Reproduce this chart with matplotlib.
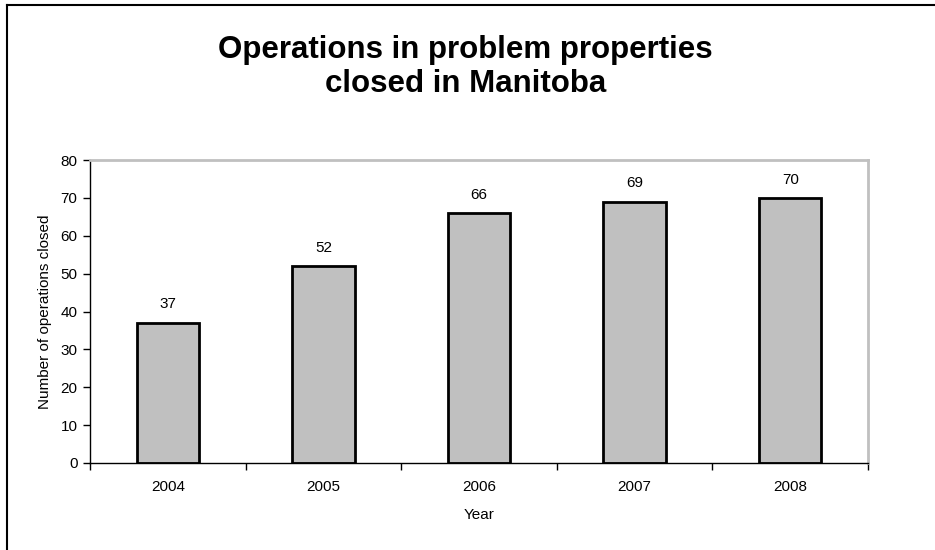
import matplotlib.pyplot as plt
from matplotlib.lines import Line2D

years = ['2004', '2005', '2006', '2007', '2008']
closed = [37, 52, 66, 69, 70]

plt.rcParams['font.family'] = ['Liberation Sans', 'DejaVu Sans']

fig = plt.figure(figsize=(9.35, 5.5), dpi=100)
ax = fig.add_axes([90 / 935, 1 - 463 / 550, 778 / 935, 303 / 550])

x = range(len(years))
ax.bar(x, closed, width=0.4, color='#c0c0c0', edgecolor='black', linewidth=2)
for xi, v in zip(x, closed):
    ax.text(xi, v + 3.0, str(v), ha='center', va='bottom', fontsize=11)

ax.set_xlim(-0.5, len(years) - 0.5)
ax.set_ylim(0, 80)
ax.set_yticks(range(0, 81, 10))
ax.set_xticks([i + 0.5 for i in range(-1, len(years))], minor=False)
ax.set_xticklabels([])
ax.set_xticks(list(x), minor=True)
ax.set_xticklabels(years, minor=True)
ax.tick_params(axis='x', which='minor', length=0, labelsize=11, pad=12)
ax.tick_params(axis='x', which='major', length=5, width=1, direction='out')
ax.tick_params(axis='y', length=5, width=1, labelsize=11, pad=4)

for side in ['top', 'right']:
    ax.spines[side].set_color('#c0c0c0')
    ax.spines[side].set_linewidth(2)
for side in ['left', 'bottom']:
    ax.spines[side].set_color('black')
    ax.spines[side].set_linewidth(1)

ax.set_xlabel('Year', fontsize=11, labelpad=10)
ax.set_ylabel('Number of operations closed', fontsize=11, labelpad=6)

fig.text(0.498, 1 - 67 / 550, 'Operations in problem properties\nclosed in Manitoba',
         ha='center', va='center', fontsize=22.5, fontweight='bold', linespacing=1.15)

# frame around the chart area (left and top edges)
fig.add_artist(Line2D([7 / 935, 7 / 935], [0, 1 - 5 / 550], transform=fig.transFigure,
                      color='black', linewidth=1.5))
fig.add_artist(Line2D([7 / 935, 1], [1 - 5 / 550, 1 - 5 / 550], transform=fig.transFigure,
                      color='black', linewidth=1.5))

fig.savefig('out.png', dpi=100)
